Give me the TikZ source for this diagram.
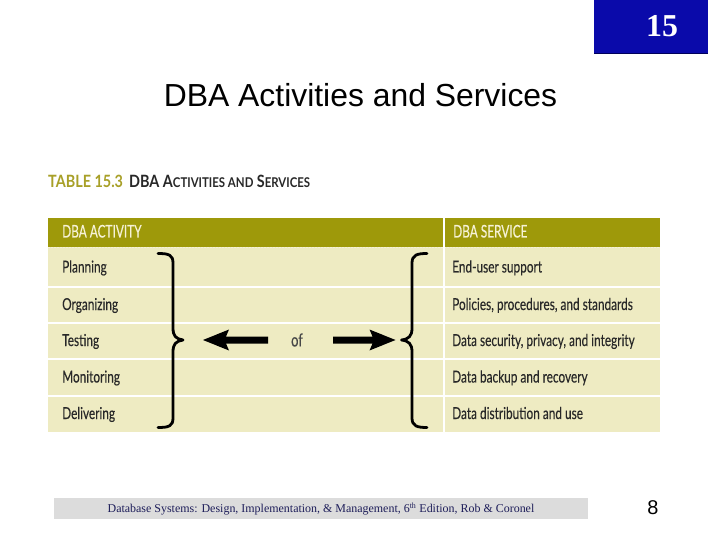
\documentclass[tikz,border=0pt]{standalone}
\usepackage{fontspec}
\setmainfont{Liberation Sans}
\newfontfamily\tabfont[FakeStretch=0.72,FakeBold=0.2]{Lato}
\newfontfamily\tabfonth[FakeStretch=0.68,FakeBold=0.3]{Lato}
\newfontfamily\tabfontb[FakeStretch=0.85]{Lato Bold}
\newfontfamily\timesf{Liberation Serif}
\definecolor{slideblue}{RGB}{10,10,170}
\definecolor{slideblueedge}{RGB}{0,0,90}
\definecolor{olivehead}{RGB}{158,153,10}
\definecolor{rowfill}{RGB}{238,235,194}
\definecolor{tabtitle}{RGB}{168,160,40}
\definecolor{tabtext}{RGB}{40,40,40}
\definecolor{headtext}{RGB}{246,242,214}
\definecolor{footgray}{RGB}{220,220,220}
\definecolor{foottext}{RGB}{30,30,90}
\tikzset{
  celltext/.style={anchor=base west, inner sep=0pt, text=tabtext, font=\tabfont\fontsize{16.5}{18}\selectfont},
  headcell/.style={anchor=base west, inner sep=0pt, text=headtext, font=\tabfonth\fontsize{17.5}{19}\selectfont},
  sepline/.style={white, line width=2bp},
  bracestyle/.style={black, line width=2.8bp, line cap=round, line join=round},
  fatarrow/.style={fill=black, draw=none}
}
\begin{document}
\begin{tikzpicture}[x=1bp,y=-1bp]
\useasboundingbox (0,0) rectangle (720,540);
\fill[white] (0,0) rectangle (720,540);
% slide number box
\fill[slideblue] (594,0) rectangle (708,54);
\draw[slideblueedge, line width=1.2bp] (594,53.4) -- (708,53.4);
\node[text=white, font=\timesf\bfseries\fontsize{32}{34}\selectfont, inner sep=0pt] (num) at (662,26) {15};
% title
\node[font=\fontsize{32}{36}\selectfont, inner sep=0pt] (title) at (360.5,95) {DBA Activities and Services};
% table caption
\node[anchor=base west, inner sep=0pt, text=tabtitle, font=\tabfontb\fontsize{17}{19}\selectfont] (tabnum) at (48,188) {TABLE 15.3};
\node[anchor=base west, inner sep=0pt, text=tabtext, font=\tabfontb\fontsize{17}{19}\selectfont] (tabcap) at (129,188)
  {DBA A{\fontsize{13.5}{15}\selectfont CTIVITIES AND} S{\fontsize{13.5}{15}\selectfont ERVICES}};
% table body
\fill[olivehead] (48,218) rectangle (660,247);
\fill[rowfill] (48,247) rectangle (660,432);
\draw[headtext, line width=0.8bp, dash pattern=on 2bp off 1bp] (48,247) -- (660,247);
\foreach \yy in {287,323,359,396} {\draw[sepline] (48,\yy) -- (660,\yy);}
\draw[sepline] (443.5,218) -- (443.5,432);
% header texts
\node[headcell] (hact) at (62,237.5) {DBA ACTIVITY};
\node[headcell] (hsrv) at (453,237.5) {DBA SERVICE};
% activity rows
\node[celltext] (a1) at (62,272.5) {Planning};
\node[celltext] (a2) at (62,310) {Organizing};
\node[celltext] (a3) at (62,346) {Testing};
\node[celltext] (a4) at (62,382.5) {Monitoring};
\node[celltext] (a5) at (62,419) {Delivering};
% service rows
\node[celltext] (s1) at (452,272.5) {End-user support};
\node[celltext] (s2) at (452,310) {Policies, procedures, and standards};
\node[celltext] (s3) at (452,346) {Data security, privacy, and integrity};
\node[celltext] (s4) at (452,382.5) {Data backup and recovery};
\node[celltext] (s5) at (452,419) {Data distribution and use};
% "of"
\node[inner sep=0pt, text=tabtext!85, font=\tabfont\fontsize{18}{20}\selectfont] (of) at (297,340) {of};
% left brace
\draw[bracestyle] (158,253.5) .. controls (169,253.5) and (173,255) .. (173,263)
  -- (173,328) .. controls (173,336) and (176,339) .. (183,340)
  .. controls (176,341) and (173,344) .. (173,352)
  -- (173,418) .. controls (173,426) and (169,427.5) .. (158,427.5);
% right brace
\draw[bracestyle] (427,253.5) .. controls (417,253.5) and (412,255) .. (412,263)
  -- (412,328) .. controls (412,336) and (409,339) .. (401.5,340)
  .. controls (409,341) and (412,344) .. (412,352)
  -- (412,418) .. controls (412,426) and (417,427.5) .. (427,427.5);
% arrows
\fill[fatarrow] (203,340) -- (229,329.5) -- (226,336.5) -- (268,336.5) -- (268,343.5) -- (226,343.5) -- (229,350.5) -- cycle;
\fill[fatarrow] (395.5,340) -- (369.5,329.5) -- (372.5,336.5) -- (333,336.5) -- (333,343.5) -- (372.5,343.5) -- (369.5,350.5) -- cycle;
% footer
\fill[footgray] (54,498) rectangle (588,519);
\node[text=foottext, inner sep=0pt, font=\timesf\fontsize{12}{13}\selectfont] (foot) at (321,509)
  {Database Systems: Design, Implementation, \& Management, 6\textsuperscript{th} Edition, Rob \& Coronel};
\node[inner sep=0pt, font=\fontsize{20}{22}\selectfont] (page) at (653,508) {8};
\end{tikzpicture}
\end{document}
